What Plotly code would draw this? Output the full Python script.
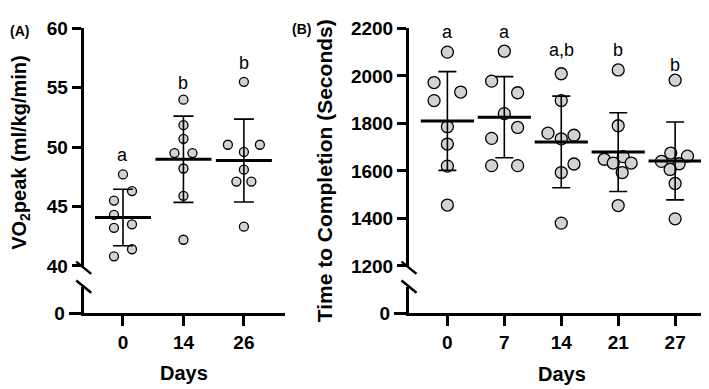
import plotly.graph_objects as go

W, H = 709, 389

# ---------------- data ----------------
days_A = ["0", "14", "26"]
vo2_d0 = [47.7, 46.3, 45.5, 44.3, 43.5, 43.2, 41.4, 40.8]
vo2_d14 = [54.0, 51.85, 50.7, 49.5, 49.5, 48.2, 45.9, 42.2]
vo2_d26 = [55.5, 50.2, 50.2, 49.6, 48.1, 47.1, 47.1, 43.3]
vo2_mean = [44.07, 48.98, 48.87]
vo2_sd = [2.38, 3.63, 3.49]
vo2_letters = ["a", "b", "b"]
vo2_letter_y = [49.3, 55.4, 57.1]

days_B = ["0", "7", "14", "21", "27"]
t_d0 = [2100, 1972, 1932, 1896, 1786, 1713, 1620, 1456]
t_d7 = [2104, 1978, 1929, 1841, 1783, 1737, 1622, 1622]
t_d14 = [2009, 1896, 1759, 1750, 1735, 1629, 1593, 1380]
t_d21 = [2025, 1790, 1660, 1649, 1633, 1633, 1593, 1454]
t_d27 = [1982, 1675, 1662, 1640, 1630, 1606, 1547, 1398]
t_mean = [1810, 1826, 1722, 1679, 1642]
t_sd = [208, 171, 193, 166, 164]
t_letters = ["a", "a", "a,b", "b", "b"]
t_letter_y = [2183, 2183, 2111, 2111, 2045]

vo2_ticks = [40, 45, 50, 55, 60]
t_ticks = [1200, 1400, 1600, 1800, 2000, 2200]

# horizontal scatter offsets of the dots (pixels)
off_A = [
    [0, 9, -9, -9, 9, -9, 9, -9],
    [0, 0, 0, -9, 9, 0, 0, 0],
    [0, -16, 16, 0, 0, -7.5, 7.5, 0],
]
off_B = [
    [0, -13.3, 13.3, -13.3, 0, 0, 0, 0],
    [0, -12.7, 13.3, 0, 13.3, -12.7, -12.7, 13.3],
    [0, 0, -13.3, 12.7, 0, 12.7, 0, 0],
    [0, 0, 5, -14, -5, 13, 4, 0],
    [0, -4.4, 12.3, -13.7, 4, -5, 0, 0],
]

# ---------------- layout helpers ----------------
def px(x):
    return x / W

def py(y):
    return 1 - y / H

def b(s):
    return "<b>" + str(s) + "</b>"

FONT = "Arial, Liberation Sans, sans-serif"
GRAY = "#d3d3d3"

# pixel geometry
A_axis, A_end = 75.7, 277.0
B_axis, B_end = 401.0, 707.0
y_top, y_brk, y_low_top, y_zero = 11.0, 262.0, 284.0, 312.0
A_range = [-0.65, 2.68]
B_range = [-0.674, 4.70]
A_unit = (A_end - A_axis) / (A_range[1] - A_range[0])
B_unit = (B_end - B_axis) / (B_range[1] - B_range[0])

fig = go.Figure()

def add_panel(groups, offs, means, sds, xa, ya, ya_low, unit, dot_size, cap, mean_w):
    # empty trace so the lower (broken) axis segment is drawn
    fig.add_trace(go.Scatter(x=[], y=[], xaxis=xa, yaxis=ya_low, showlegend=False,
                             hoverinfo="skip"))
    for i, (vals, off) in enumerate(zip(groups, offs)):
        fig.add_trace(go.Scatter(
            x=[i + o / unit for o in off], y=vals, mode="markers",
            marker=dict(size=dot_size, color=GRAY, line=dict(color="black", width=1.3)),
            xaxis=xa, yaxis=ya, showlegend=False, cliponaxis=False, hoverinfo="skip"))
    idx = list(range(len(means)))
    fig.add_trace(go.Scatter(
        x=idx, y=means, mode="markers",
        marker=dict(size=1, color="rgba(0,0,0,0)"),
        error_y=dict(type="data", array=sds, visible=True, width=cap, thickness=1.6, color="black"),
        xaxis=xa, yaxis=ya, showlegend=False, cliponaxis=False, hoverinfo="skip"))
    fig.add_trace(go.Scatter(
        x=idx, y=means, mode="markers",
        marker=dict(symbol="line-ew", size=mean_w, color="black", line=dict(color="black", width=3)),
        xaxis=xa, yaxis=ya, showlegend=False, cliponaxis=False, hoverinfo="skip"))

add_panel([vo2_d0, vo2_d14, vo2_d26], off_A, vo2_mean, vo2_sd, "x", "y", "y2", A_unit, 9, 10, 40)
add_panel([t_d0, t_d7, t_d14, t_d21, t_d27], off_B, t_mean, t_sd, "x2", "y3", "y4", B_unit, 12, 9, 38)

tickfont = dict(family=FONT, size=19, color="black")
axis_common = dict(showline=True, linewidth=3, linecolor="black", ticks="outside",
                   tickwidth=3, tickcolor="black", showgrid=False, zeroline=False,
                   tickfont=tickfont, fixedrange=True)

fig.update_layout(
    width=W, height=H, margin=dict(l=0, r=0, t=0, b=0),
    paper_bgcolor="white", plot_bgcolor="white",
    xaxis=dict(domain=[px(A_axis), px(A_end)], range=A_range, anchor="y2",
               tickvals=[0, 1, 2], ticktext=[b(d) for d in days_A], ticklen=10, **axis_common),
    yaxis=dict(domain=[py(y_brk), py(y_top)], range=[vo2_ticks[0], vo2_ticks[-1]], anchor="x",
               tickvals=vo2_ticks, ticktext=[b(t) for t in vo2_ticks], ticklen=9, **axis_common),
    yaxis2=dict(domain=[py(y_zero), py(y_low_top)], range=[0, 10], anchor="x",
                tickvals=[0], ticktext=[b(0)], ticklen=12, **axis_common),
    xaxis2=dict(domain=[px(B_axis), px(B_end)], range=B_range, anchor="y4",
                tickvals=[0, 1, 2, 3, 4], ticktext=[b(d) for d in days_B], ticklen=10, **axis_common),
    yaxis3=dict(domain=[py(y_brk), py(y_top)], range=[t_ticks[0], t_ticks[-1]], anchor="x2",
                tickvals=t_ticks, ticktext=[b(t) for t in t_ticks], ticklen=9, **axis_common),
    yaxis4=dict(domain=[py(y_zero), py(y_low_top)], range=[0, 100], anchor="x2",
                tickvals=[0], ticktext=[b(0)], ticklen=12, **axis_common),
)

ann = []
letter_font = dict(family=FONT, size=18, color="black")
for i, (t, yv) in enumerate(zip(vo2_letters, vo2_letter_y)):
    ann.append(dict(x=i, y=yv, xref="x", yref="y", text=t, showarrow=False, font=letter_font,
                    xanchor="center", yanchor="middle"))
for i, (t, yv) in enumerate(zip(t_letters, t_letter_y)):
    ann.append(dict(x=i, y=yv, xref="x2", yref="y3", text=t, showarrow=False, font=letter_font,
                    xanchor="center", yanchor="middle"))

lab_font = dict(family=FONT, size=14, color="black")
ann += [
    dict(x=px(12.5), y=py(142), text=b("VO<sub>2</sub>peak (ml/kg/min)"), textangle=-90,
         font=dict(family=FONT, size=20, color="black")),
    dict(x=px(316), y=py(162), text=b("Time to Completion (Seconds)"), textangle=-90,
         font=dict(family=FONT, size=21, color="black")),
    dict(x=px(176), y=py(375), text=b("Days"), font=dict(family=FONT, size=20, color="black")),
    dict(x=px(554), y=py(376), text=b("Days"), font=dict(family=FONT, size=20, color="black")),
    dict(x=px(11.5), y=py(13.5), text=b("(A)"), font=lab_font),
    dict(x=px(293), y=py(12), text=b("(B)"), font=lab_font),
]
for a in ann[-6:]:
    a.update(xref="paper", yref="paper", showarrow=False, xanchor="center", yanchor="middle")
fig.update_layout(annotations=ann)

shapes = []
for ax in (A_axis, B_axis):
    for yc in (y_brk + 2, y_low_top):
        shapes.append(dict(type="line", xref="paper", yref="paper",
                           x0=px(ax - 7.5), y0=py(yc - 6.5), x1=px(ax + 7.5), y1=py(yc + 6.5),
                           line=dict(color="black", width=2.5)))
fig.update_layout(shapes=shapes)

fig.write_html("out.html")
